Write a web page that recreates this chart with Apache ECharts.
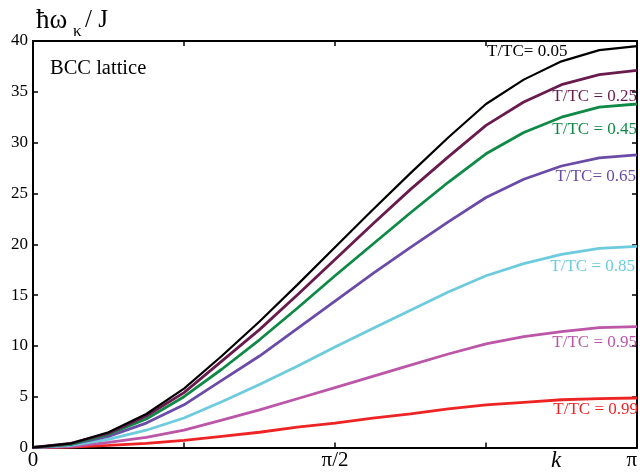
<!DOCTYPE html>
<html>
<head>
<meta charset="utf-8">
<script src="https://cdn.jsdelivr.net/npm/echarts@6/dist/echarts.min.js"></script>
<style>
  html, body { margin: 0; padding: 0; background: #fff; }
  #chart { width: 640px; height: 472px; }
</style>
</head>
<body>
<div id="chart"></div>
<script>
// k from 0 to pi in steps of pi/16
const kValues = ['0', 'π/16', 'π/8', '3π/16', 'π/4', '5π/16', '3π/8', '7π/16', 'π/2',
  '9π/16', '5π/8', '11π/16', '3π/4', '13π/16', '7π/8', '15π/16', 'π'];
const xTickLabels = ['0', '', '', '', '', '', '', '', 'π/2', '', '', '', '', '', '', '', 'π'];

// hbar omega_k / J for each T/TC
const t005 = [0, 0.4, 1.5, 3.3, 5.8, 9.0, 12.4, 16.0, 19.7, 23.4, 27.0, 30.5, 33.8, 36.2, 38.0, 39.1, 39.5];
const t025 = [0, 0.4, 1.4, 3.1, 5.4, 8.5, 11.6, 15.0, 18.5, 22.0, 25.4, 28.6, 31.7, 34.0, 35.7, 36.7, 37.1];
const t045 = [0, 0.3, 1.3, 2.8, 5.0, 7.7, 10.6, 13.7, 16.9, 20.0, 23.1, 26.1, 28.9, 31.0, 32.5, 33.5, 33.8];
const t065 = [0, 0.3, 1.1, 2.4, 4.2, 6.6, 9.0, 11.7, 14.4, 17.1, 19.7, 22.2, 24.6, 26.4, 27.7, 28.5, 28.8];
const t085 = [0, 0.2, 0.8, 1.7, 2.9, 4.5, 6.2, 8.0, 9.9, 11.7, 13.5, 15.3, 16.9, 18.1, 19.0, 19.6, 19.8];
const t095 = [0, 0.1, 0.5, 1.0, 1.7, 2.7, 3.7, 4.8, 5.9, 7.0, 8.1, 9.2, 10.2, 10.9, 11.4, 11.8, 11.9];
const t099 = [0, 0.05, 0.2, 0.4, 0.7, 1.1, 1.5, 2.0, 2.4, 2.9, 3.3, 3.8, 4.2, 4.45, 4.7, 4.8, 4.87];

const seriesNames = ['T/TC= 0.05', 'T/TC = 0.25', 'T/TC = 0.45', 'T/TC= 0.65', 'T/TC = 0.85', 'T/TC = 0.95', 'T/TC = 0.99'];
const seriesData = [t005, t025, t045, t065, t085, t095, t099];
const colors = ['#000000', '#6a1b4d', '#0f8a46', '#6b4ba8', '#6ccbdc', '#bb56a8', '#ee2424'];

const serif = '"Liberation Serif", "DejaVu Serif", serif';

const chart = echarts.init(document.getElementById('chart'), null, {renderer: 'canvas'});

const axisLine = {show: true, onZero: false, lineStyle: {color: '#000', width: 2}};
const tick = {show: true, inside: true, length: 5, lineStyle: {color: '#000', width: 1.5}};

// label placement: [x, y, align]
const labelPos = [
  [487, 52, 'left'],
  [637, 97, 'right'],
  [637, 130, 'right'],
  [636, 177, 'right'],
  [635, 267, 'right'],
  [637, 343, 'right'],
  [638, 410, 'right']
];

chart.setOption({
  animation: false,
  backgroundColor: '#fff',
  grid: {left: 33, right: 2, top: 41, bottom: 24.5},
  xAxis: [{
    type: 'category',
    data: kValues,
    boundaryGap: false,
    axisLine: axisLine,
    axisTick: Object.assign({interval: 3}, tick),
    axisLabel: {
      interval: 0,
      margin: 2,
      fontFamily: serif,
      fontSize: 21,
      color: '#000',
      alignMaxLabel: 'right',
      formatter: (v, i) => xTickLabels[i]
    },
    splitLine: {show: false}
  }, {
    // mirror axis along the top, in units of pi/16
    type: 'value',
    position: 'top',
    min: 0,
    max: 16,
    interval: 4,
    axisLine: axisLine,
    axisTick: tick,
    axisLabel: {show: false},
    splitLine: {show: false}
  }],
  yAxis: [{
    type: 'value',
    min: 0,
    max: 40,
    interval: 5,
    axisLine: axisLine,
    axisTick: tick,
    axisLabel: {margin: 5, fontFamily: serif, fontSize: 17, color: '#000'},
    splitLine: {show: false}
  }, {
    type: 'value',
    position: 'right',
    min: 0,
    max: 40,
    interval: 5,
    axisLine: axisLine,
    axisTick: tick,
    axisLabel: {show: false},
    splitLine: {show: false}
  }],
  series: seriesData.map((d, i) => ({
    name: seriesNames[i],
    type: 'line',
    data: d,
    symbol: 'none',
    smooth: false,
    z: 10 - i,
    lineStyle: {color: colors[i], width: i === 0 ? 2.2 : 2.8}
  })),
  graphic: [
    {type: 'text', left: 36, top: 7, style: {text: 'ħω', font: '27px ' + serif, fill: '#000'}},
    {type: 'text', left: 73, top: 23, style: {text: 'κ', font: '17px ' + serif, fill: '#000'}},
    {type: 'text', left: 85, top: 8, style: {text: '/ J', font: '25px ' + serif, fill: '#000'}},
    {type: 'text', left: 50, top: 58, style: {text: 'BCC lattice', font: '20.5px ' + serif, fill: '#000'}},
    {type: 'text', left: 551, top: 449, style: {text: 'k', font: 'italic 23px ' + serif, fill: '#000'}}
  ].concat(labelPos.map((p, i) => ({
    type: 'text',
    x: p[0],
    y: p[1],
    z: 100,
    style: {
      text: seriesNames[i],
      font: '17px ' + serif,
      fill: colors[i],
      align: p[2],
      verticalAlign: 'middle'
    }
  })))
});
</script>
</body>
</html>
